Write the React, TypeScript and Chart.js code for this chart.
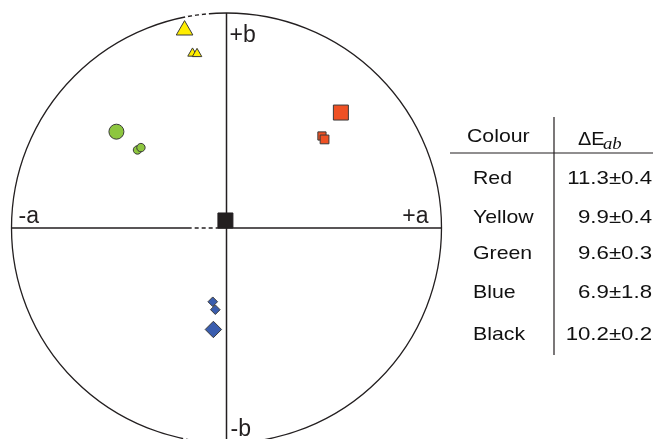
import { useEffect, useRef } from 'react';
import { Chart, registerables } from 'chart.js';

Chart.register(...registerables);

// CIE a*/b* plane, wheel radius in plot units
const WHEEL_RADIUS = 100;

// Measured colour positions: first entry is the reference patch, the rest are prints
const redA = [53.2, 44.4, 45.6];
const redB = [53.7, 42.8, 41.2];
const yellowA = [-19.5, -15.8, -13.7];
const yellowB = [92.0, 81.2, 81.0];
const greenA = [-51.2, -41.4, -39.8];
const greenB = [44.8, 36.3, 37.4];
const blueA = [-6.1, -6.4, -5.2];
const blueB = [-47.2, -34.3, -38.0];
const blackA = [-0.5];
const blackB = [3.5];

// Table of colour differences
const colourNames = ['Red', 'Yellow', 'Green', 'Blue', 'Black'];
const deltaMean = ['11.3', '9.9', '9.6', '6.9', '10.2'];
const deltaSd = ['0.4', '0.4', '0.3', '1.8', '0.2'];

// Broken stretches of the wheel outline (degrees) and of the a-axis (a units)
const rimGaps = [[94.4, 101.1], [-101.7, -97.1]];
const axisGaps = [[-16.2, -4.1]];

const W = 653;
const H = 439;
const PX_PER_UNIT = 2.15;
const CENTER_X = 226.5;
const CENTER_Y = 228;

const INK = '#231f20';

const pts = (a: number[], b: number[]) => a.map((v, i) => ({ x: v, y: b[i] }));

function drawStretched(ctx: CanvasRenderingContext2D, text: string, x: number, y: number, align: 'left' | 'right', sx: number) {
  ctx.save();
  const w = ctx.measureText(text).width * sx;
  const left = align === 'left' ? x : x - w;
  ctx.translate(left, y);
  ctx.scale(sx, 1);
  ctx.textAlign = 'left';
  ctx.fillText(text, 0, 0);
  ctx.restore();
}

const wheelPlugin = {
  id: 'wheel',
  beforeDatasetsDraw(chart: any) {
    const { ctx, scales } = chart;
    const xs = scales.x;
    const ys = scales.y;
    const cx = xs.getPixelForValue(0);
    const cy = ys.getPixelForValue(0);
    const r = xs.getPixelForValue(WHEEL_RADIUS) - cx;

    ctx.save();
    ctx.strokeStyle = INK;
    ctx.lineWidth = 1.3;
    ctx.beginPath();
    ctx.arc(cx, cy, r, 0, Math.PI * 2);
    ctx.stroke();

    ctx.lineWidth = 1.5;
    ctx.beginPath();
    ctx.moveTo(cx - r, cy);
    ctx.lineTo(cx + r, cy);
    ctx.moveTo(cx, cy - r);
    ctx.lineTo(cx, chart.height + 2);
    ctx.stroke();

    // white breaks
    ctx.strokeStyle = '#ffffff';
    ctx.lineWidth = 2.5;
    ctx.setLineDash([3, 4]);
    rimGaps.forEach(([a0, a1]) => {
      ctx.beginPath();
      ctx.arc(cx, cy, r, (-a1 * Math.PI) / 180, (-a0 * Math.PI) / 180);
      ctx.stroke();
    });
    axisGaps.forEach(([a0, a1]) => {
      ctx.beginPath();
      ctx.moveTo(xs.getPixelForValue(a0), cy);
      ctx.lineTo(xs.getPixelForValue(a1), cy);
      ctx.stroke();
    });
    ctx.setLineDash([]);

    // axis labels
    ctx.fillStyle = INK;
    ctx.font = '23px "Liberation Sans", Arial, sans-serif';
    ctx.textBaseline = 'alphabetic';
    ctx.textAlign = 'left';
    ctx.fillText('-a', cx - r + 7, cy - 5);
    ctx.textAlign = 'right';
    ctx.fillText('+a', cx + r - 13, cy - 5);
    ctx.textAlign = 'left';
    ctx.fillText('+b', cx + 3, cy - r + 29);
    ctx.fillText('-b', cx + 4, cy + 208);
    ctx.restore();
  },
  afterDraw(chart: any) {
    const { ctx } = chart;
    ctx.save();
    ctx.strokeStyle = INK;
    ctx.lineWidth = 1.2;
    ctx.beginPath();
    ctx.moveTo(554, 117);
    ctx.lineTo(554, 355);
    ctx.moveTo(450, 153);
    ctx.lineTo(653, 153);
    ctx.stroke();

    ctx.fillStyle = '#111';
    ctx.textBaseline = 'alphabetic';
    const sx = 1.12;
    ctx.font = '19px "Liberation Sans", Arial, sans-serif';
    drawStretched(ctx, 'Colour', 467, 142, 'left', sx);
    drawStretched(ctx, 'ΔE', 578, 145, 'left', 1.05);
    ctx.font = 'italic 17px "Liberation Serif", "Times New Roman", serif';
    drawStretched(ctx, 'ab', 603, 149, 'left', 1.1);

    ctx.font = '19px "Liberation Sans", Arial, sans-serif';
    const baselines = [184, 223, 259, 298, 340];
    colourNames.forEach((name, i) => {
      drawStretched(ctx, name, 473, baselines[i], 'left', sx);
      drawStretched(ctx, `${deltaMean[i]}±${deltaSd[i]}`, 652, baselines[i], 'right', 1.17);
    });
    ctx.restore();
  },
};

export default function App() {
  const ref = useRef<HTMLCanvasElement | null>(null);

  useEffect(() => {
    if (!ref.current) return;
    const border = '#3a3a3a';
    const chart = new Chart(ref.current, {
      type: 'scatter',
      data: {
        datasets: [
          {
            label: 'Black',
            data: pts(blackA, blackB),
            pointStyle: 'rect',
            pointRadius: [10.6],
            backgroundColor: INK,
            borderColor: INK,
            borderWidth: 1,
          },
          {
            label: 'Red',
            data: pts(redA, redB),
            pointStyle: 'rect',
            pointRadius: [10.6, 5.8, 6.2],
            backgroundColor: '#ef5124',
            borderColor: border,
            borderWidth: 1,
          },
          {
            label: 'Yellow',
            data: pts(yellowA, yellowB),
            pointStyle: 'triangle',
            pointRadius: [9.6, 5.5, 5.5],
            backgroundColor: '#ffed00',
            borderColor: border,
            borderWidth: 1,
          },
          {
            label: 'Green',
            data: pts(greenA, greenB),
            pointStyle: 'circle',
            pointRadius: [7.5, 4.2, 4.2],
            backgroundColor: '#8dc63f',
            borderColor: border,
            borderWidth: 1,
          },
          {
            label: 'Blue',
            data: pts(blueA, blueB),
            pointStyle: 'rectRot',
            pointRadius: [8.2, 4.8, 4.8],
            backgroundColor: '#3a5dae',
            borderColor: border,
            borderWidth: 1,
          },
        ],
      },
      options: {
        responsive: false,
        animation: false,
        devicePixelRatio: 1,
        layout: { padding: 0, autoPadding: false },
        plugins: { legend: { display: false }, tooltip: { enabled: false } },
        scales: {
          x: {
            type: 'linear',
            display: false,
            min: -CENTER_X / PX_PER_UNIT,
            max: (W - CENTER_X) / PX_PER_UNIT,
          },
          y: {
            type: 'linear',
            display: false,
            min: -(H - CENTER_Y) / PX_PER_UNIT,
            max: CENTER_Y / PX_PER_UNIT,
          },
        },
        elements: { point: { hoverRadius: 0 } },
      },
      plugins: [wheelPlugin],
    });
    return () => chart.destroy();
  }, []);

  return (
    <div style={{ position: 'absolute', left: 0, top: 0, width: W, height: H, background: '#fff' }}>
      <canvas ref={ref} width={W} height={H} style={{ display: 'block' }} />
    </div>
  );
}
